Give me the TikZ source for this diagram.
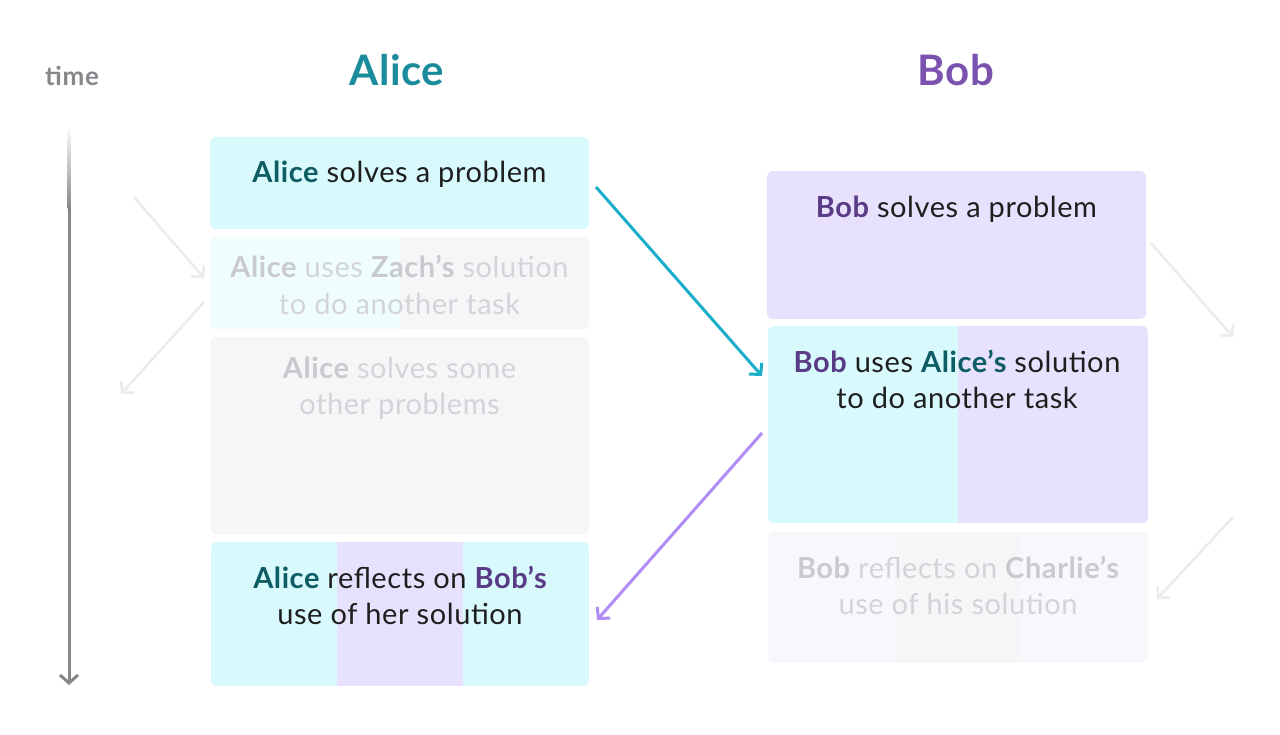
\documentclass[tikz,border=0pt]{standalone}
\usepackage{fontspec}
\setmainfont{Lato}
\usetikzlibrary{arrows.meta,calc}
\definecolor{cyanbox}{HTML}{D8FAFC}
\definecolor{purplebox}{HTML}{E8E1FD}
\definecolor{graybox}{HTML}{F6F6F8}
\definecolor{faintcyan}{HTML}{F0FDFE}
\definecolor{faintpurple}{HTML}{F8F8FC}
\definecolor{aliceT}{HTML}{1B8C9B}
\definecolor{bobT}{HTML}{7B52B0}
\definecolor{aliceN}{HTML}{0E5C64}
\definecolor{bobN}{HTML}{5A3B86}
\definecolor{bodytxt}{HTML}{1E1E1E}
\definecolor{fadeB}{HTML}{C9CACD}
\definecolor{fadeT}{HTML}{D3D4D7}
\definecolor{timegray}{HTML}{85878B}
\definecolor{arrcyan}{HTML}{1BAECB}
\definecolor{arrpurple}{HTML}{B08DF6}
\definecolor{faintarr}{HTML}{ECECEE}
\tikzset{
  box/.style={draw=none, inner sep=0pt, rounded corners=6pt},
  halves/.style 2 args={path picture={
    \fill[#1, sharp corners] (path picture bounding box.south west) rectangle (path picture bounding box.north);
    \fill[#2, sharp corners] (path picture bounding box.north) rectangle (path picture bounding box.south east);}},
  thirds/.style 2 args={path picture={
    \fill[#1, sharp corners] (path picture bounding box.south west) rectangle (path picture bounding box.north east);
    \fill[#2, sharp corners] ($(path picture bounding box.south west)!1/3!(path picture bounding box.south east)$) rectangle ($(path picture bounding box.north west)!2/3!(path picture bounding box.north east)$);}},
  line/.style={anchor=base, inner sep=0pt, font=\fontsize{29}{36}\selectfont\addfontfeatures{LetterSpace=2}, text=bodytxt},
  fline/.style={line, text=fadeT},
  title/.style={anchor=base, inner sep=0pt, font=\fontsize{42}{46}\selectfont\bfseries\addfontfeatures{LetterSpace=1}},
  link/.style={line width=3pt, -{Straight Barb[length=8pt,width=17pt,line width=3pt]}},
  faint/.style={line width=2.5pt, draw=faintarr, -{Straight Barb[length=8pt,width=17pt,line width=2.5pt]}}
}
\newcommand{\An}{\textcolor{aliceN}{\bfseries Alice}}
\newcommand{\Bn}{\textcolor{bobN}{\bfseries Bob}}
\begin{document}
\begin{tikzpicture}[x=1pt,y=-1pt]
\useasboundingbox[fill=white] (0,0) rectangle (1280,734);

% titles
\node[title, text=aliceT] (tA) at (397,85) {Alice};
\node[title, text=bobT] (tB) at (956,85) {Bob};
\node[anchor=base, inner sep=0pt, font=\fontsize{26}{28}\selectfont\bfseries\addfontfeatures{LetterSpace=3}, text=timegray] (tT) at (72,85) {time};

% time axis
\shade[top color=white, bottom color=timegray] (67.5,126) rectangle (70.5,208);
\coordinate (ts) at (69,206);
\coordinate (te) at (69,685);
\draw[line width=3pt, timegray, -{Straight Barb[length=8pt,width=18pt,line width=3pt]}] (ts) -- (te);

% Alice boxes
\node[box, fill=cyanbox, minimum width=379pt, minimum height=92pt] (a1) at (399.5,183) {};
\node[box, halves={faintcyan}{graybox}, minimum width=379pt, minimum height=92pt] (a2) at (399.5,283) {};
\node[box, fill=graybox, minimum width=379pt, minimum height=197pt] (a3) at (399.5,435.5) {};
\node[box, thirds={cyanbox}{purplebox}, minimum width=378pt, minimum height=144pt] (a4) at (400,614) {};

% Bob boxes
\node[box, fill=purplebox, minimum width=379pt, minimum height=148pt] (b1) at (956.5,245) {};
\node[box, halves={cyanbox}{purplebox}, minimum width=380pt, minimum height=197pt] (b2) at (958,424.5) {};
\node[box, thirds={faintpurple}{graybox}, minimum width=380pt, minimum height=131pt] (b3) at (958,597.5) {};

% texts
\node[line] (a1t) at (399.5,182) {\An{} solves a problem};
\node[fline] (a2t1) at (399.5,277) {\textcolor{fadeB}{\bfseries Alice} uses \textcolor{fadeB}{\bfseries Zach’s} solution};
\node[fline] (a2t2) at (399.5,314) {to do another task};
\node[fline] (a3t1) at (399.5,378) {\textcolor{fadeB}{\bfseries Alice} solves some};
\node[fline] (a3t2) at (399.5,414) {other problems};
\node[line] (a4t1) at (400,588) {\An{} reflects on \textcolor{bobN}{\bfseries Bob’s}};
\node[line] (a4t2) at (400,624) {use of her solution};

\node[line] (b1t) at (956.5,217) {\Bn{} solves a problem};
\node[line] (b2t1) at (957,372) {\Bn{} uses \textcolor{aliceN}{\bfseries Alice’s} solution};
\node[line] (b2t2) at (957,408) {to do another task};
\node[fline] (b3t1) at (958,578) {\textcolor{fadeB}{\bfseries Bob} reflects on \textcolor{fadeB}{\bfseries Charlie’s}};
\node[fline] (b3t2) at (958,614) {use of his solution};

% main connectors
\coordinate (c1s) at (596,187);
\coordinate (c1e) at (762,376);
\draw[link, arrcyan] (c1s) -- (c1e);
\coordinate (c2s) at (762,433);
\coordinate (c2e) at (597,620);
\draw[link, arrpurple] (c2s) -- (c2e);

% faint connectors
\coordinate (f1s) at (134,197);
\coordinate (f1e) at (204,278);
\draw[faint] (f1s) -- (f1e);
\coordinate (f2s) at (204,302);
\coordinate (f2e) at (121,394);
\draw[faint] (f2s) -- (f2e);
\coordinate (f3s) at (1151,243);
\coordinate (f3e) at (1233,337);
\draw[faint] (f3s) -- (f3e);
\coordinate (f4s) at (1233,517);
\coordinate (f4e) at (1157,599);
\draw[faint] (f4s) -- (f4e);
\end{tikzpicture}
\end{document}
